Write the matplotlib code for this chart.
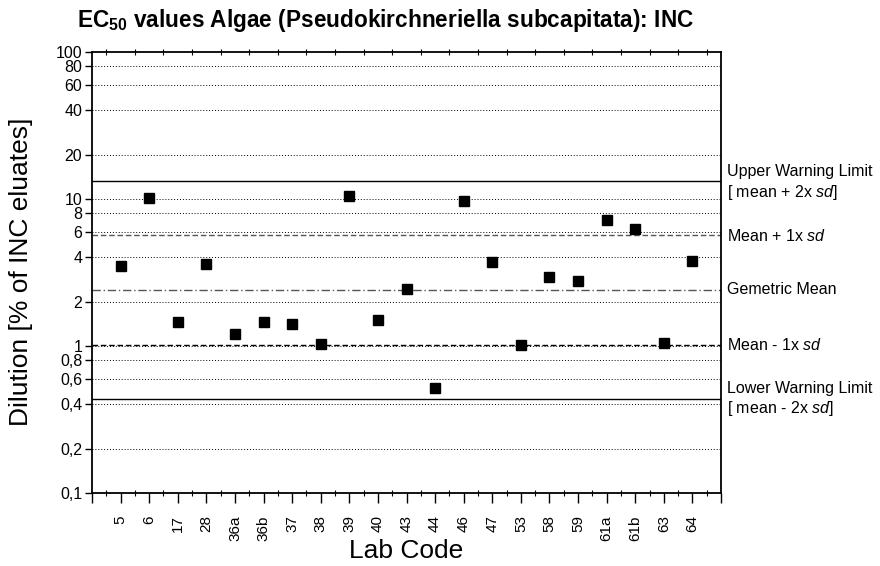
import matplotlib
matplotlib.use("Agg")
import matplotlib.pyplot as plt
from matplotlib.ticker import FixedLocator, NullFormatter

plt.rcParams['font.family'] = ['Liberation Sans', 'DejaVu Sans']
plt.rcParams['mathtext.fontset'] = 'custom'
plt.rcParams['mathtext.rm'] = 'Liberation Sans'
plt.rcParams['mathtext.it'] = 'Liberation Sans:italic'
plt.rcParams['mathtext.bf'] = 'Liberation Sans:bold'

labs = ['5', '6', '17', '28', '36a', '36b', '37', '38', '39', '40', '43',
        '44', '46', '47', '53', '58', '59', '61a', '61b', '63', '64']
ec50 = [3.50, 10.1, 1.46, 3.60, 1.20, 1.46, 1.41, 1.03, 10.5, 1.50, 2.44,
        0.52, 9.69, 3.73, 1.02, 2.95, 2.78, 7.16, 6.28, 1.05, 3.79]

geo_mean = 2.40
mean_plus_sd = 5.66
mean_minus_sd = 1.02
upper_limit = 13.3
lower_limit = 0.435

yticks = [0.1, 0.2, 0.4, 0.6, 0.8, 1, 2, 4, 6, 8, 10, 20, 40, 60, 80, 100]
ytick_labels = ['0,1', '0,2', '0,4', '0,6', '0,8', '1', '2', '4', '6', '8',
                '10', '20', '40', '60', '80', '100']

fig = plt.figure(figsize=(8.8, 5.66), dpi=100)
ax = fig.add_axes([92/880, 1 - 493/566, (721 - 92)/880, (493 - 52)/566])

ax.set_yscale('log')
ax.set_ylim(0.1, 100)
ax.set_xlim(0, len(labs) + 1)

# dotted grid at labelled values
for v in yticks[1:-1]:
    ax.axhline(v, color='black', linestyle=(0, (1, 2)), linewidth=0.7, zorder=1)

# statistics lines
ax.axhline(upper_limit, color='black', linewidth=1.0, zorder=2)
ax.axhline(lower_limit, color='black', linewidth=1.0, zorder=2)
ax.axhline(mean_plus_sd, color='#555555', linestyle=(0, (4, 2)), linewidth=1.0, zorder=2)
ax.axhline(mean_minus_sd, color='black', linestyle=(0, (4, 2)), linewidth=1.0, zorder=2)
ax.axhline(geo_mean, color='#555555', linestyle=(0, (6, 2, 1, 2)), linewidth=1.0, zorder=2)

x = list(range(1, len(labs) + 1))
ax.plot(x, ec50, linestyle='none', marker='s', markersize=7.5,
        color='black', zorder=3)

ax.yaxis.set_major_locator(FixedLocator(yticks))
ax.set_yticklabels(ytick_labels)
ax.yaxis.set_minor_formatter(NullFormatter())
ax.yaxis.set_minor_locator(FixedLocator([]))
ax.tick_params(axis='y', which='major', direction='out', length=5, width=1,
               labelsize=11.5, pad=2)

ax.set_xticks(range(0, len(labs) + 2))
ax.set_xticklabels([''] + labs + [''], rotation=90)
ax.set_xticks([i + 0.5 for i in range(0, len(labs) + 1)], minor=True)
ax.tick_params(axis='x', which='major', direction='out', length=7, width=1,
               labelsize=11, pad=9)
ax.tick_params(axis='x', which='minor', direction='inout', length=4, width=0.8,
               top=True)

for s in ax.spines.values():
    s.set_linewidth(1.3)

fig.text(21/880, 1 - 272/566, 'Dilution [% of INC eluates]', fontsize=19,
         rotation=90, ha='center', va='center')
fig.text(406.5/880, 1 - 558/566, 'Lab Code', fontsize=19,
         ha='center', va='baseline')

fig.text(77/880, 1 - 20/566,
         '$\\mathbf{EC_{50}}$ values Algae (Pseudokirchneriella subcapitata): INC',
         fontsize=16.3, fontweight='bold', va='center', ha='left')

tx = 727/880
def lab(y, s):
    fig.text(tx, 1 - y/566, s, fontsize=11.5, va='center', ha='left')

lab(172, 'Upper Warning Limit')
lab(192, '[ mean + 2x $\\it{sd}$]')
lab(236, 'Mean + 1x $\\it{sd}$')
lab(290, 'Gemetric Mean')
lab(345, 'Mean - 1x $\\it{sd}$')
lab(389, 'Lower Warning Limit')
lab(409, '[ mean - 2x $\\it{sd}$]')

fig.savefig('out.png', dpi=100)
